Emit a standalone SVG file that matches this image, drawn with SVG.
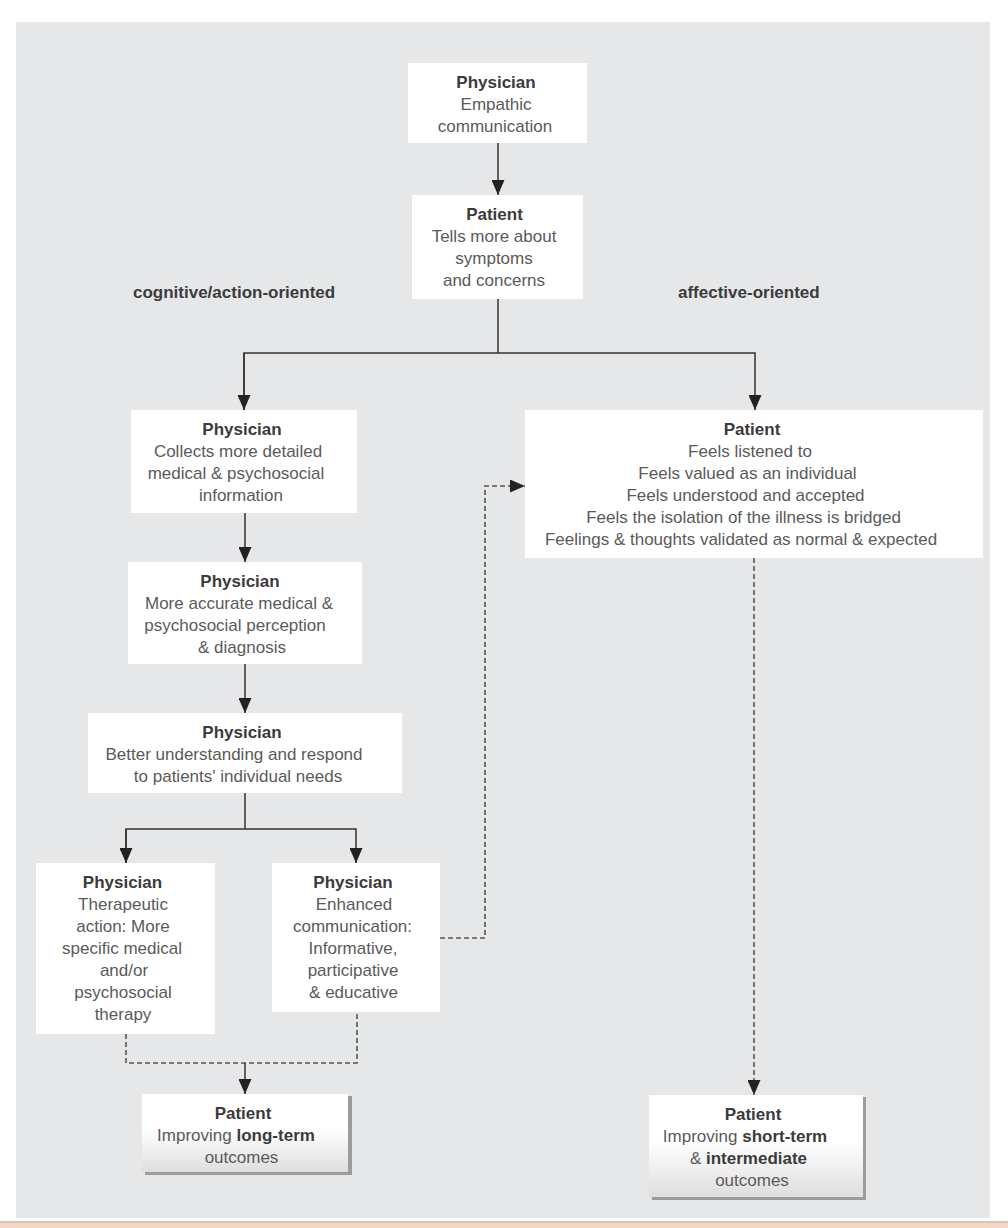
<svg xmlns="http://www.w3.org/2000/svg" width="1008" height="1228" viewBox="0 0 1008 1228">
<style>
  .box{fill:#ffffff;}
  .t{font-family:"Liberation Sans",Arial,sans-serif;font-size:17px;fill:#5a5a5a;text-anchor:middle;}
  .b{font-weight:bold;fill:#3b3b3b;}
  .lbl{font-family:"Liberation Sans",Arial,sans-serif;font-size:17px;font-weight:bold;fill:#3b3b3b;}
  .ln{fill:none;stroke:#333;stroke-width:1.5;}
  .dash{fill:none;stroke:#555;stroke-width:1.6;stroke-dasharray:5 3;}
</style>
<defs>
  <marker id="ah" viewBox="0 0 15 13" refX="15" refY="6.5" markerWidth="15" markerHeight="13" markerUnits="userSpaceOnUse" orient="auto">
    <path d="M0,0 L15,6.5 L0,13 z" fill="#222"/>
  </marker>
  <linearGradient id="g3d" x1="0" y1="0" x2="0" y2="1">
    <stop offset="0" stop-color="#ffffff"/>
    <stop offset="0.45" stop-color="#ffffff"/>
    <stop offset="1" stop-color="#dedede"/>
  </linearGradient>
</defs>

<rect x="0" y="0" width="1008" height="1228" fill="#ffffff"/>
<rect x="16" y="22" width="974" height="1196" fill="#e6e7e9"/>
<rect x="0" y="1221" width="1008" height="2" fill="#c8c8c8"/>
<rect x="0" y="1223" width="1008" height="5" fill="#f6d6bf"/>

<text class="lbl" x="133" y="298">cognitive/action-oriented</text>
<text class="lbl" x="678" y="298">affective-oriented</text>

<g id="connectors">
  <line class="ln" x1="498" y1="143" x2="498" y2="195" marker-end="url(#ah)"/>
  <polyline class="ln" points="498,299 498,353"/>
  <polyline class="ln" points="244,410 244,353 755,353 755,410" marker-end="url(#ah)"/>
  <line class="ln" x1="244" y1="353" x2="244" y2="410" marker-end="url(#ah)"/>
  <line class="ln" x1="245" y1="513" x2="245" y2="562" marker-end="url(#ah)"/>
  <line class="ln" x1="245" y1="664" x2="245" y2="713" marker-end="url(#ah)"/>
  <polyline class="ln" points="245,793 245,829"/>
  <polyline class="ln" points="126,863 126,829 356,829 356,863" marker-end="url(#ah)"/>
  <line class="ln" x1="126" y1="829" x2="126" y2="863" marker-end="url(#ah)"/>
  <polyline class="dash" points="440,938 485,938 485,486 525,486" marker-end="url(#ah)"/>
  <line class="dash" x1="754" y1="558" x2="754" y2="1095" marker-end="url(#ah)"/>
  <polyline class="dash" points="126,1034 126,1063 357,1063 357,1012"/>
  <line class="ln" x1="245" y1="1063" x2="245" y2="1094" marker-end="url(#ah)"/>
</g>

<g id="n1">
  <rect class="box" x="408" y="63" width="179" height="80"/>
  <text class="t b" x="496" y="88">Physician</text>
  <text class="t" x="496" y="110">Empathic</text>
  <text class="t" x="495" y="132">communication</text>
</g>

<g id="n2">
  <rect class="box" x="412" y="195" width="171" height="104"/>
  <text class="t b" x="494.5" y="220">Patient</text>
  <text class="t" x="494" y="242">Tells more about</text>
  <text class="t" x="494" y="264">symptoms</text>
  <text class="t" x="494" y="286">and concerns</text>
</g>

<g id="n3">
  <rect class="box" x="131" y="410" width="226" height="103"/>
  <text class="t b" x="242" y="435">Physician</text>
  <text class="t" x="238" y="457">Collects more detailed</text>
  <text class="t" x="236" y="479">medical &amp; psychosocial</text>
  <text class="t" x="241" y="501">information</text>
</g>

<g id="n4">
  <rect class="box" x="128" y="562" width="234" height="102"/>
  <text class="t b" x="240" y="587">Physician</text>
  <text class="t" x="239" y="609">More accurate medical &amp;</text>
  <text class="t" x="235" y="631">psychosocial perception</text>
  <text class="t" x="242" y="653">&amp; diagnosis</text>
</g>

<g id="n5">
  <rect class="box" x="88" y="713" width="314" height="80"/>
  <text class="t b" x="242" y="738">Physician</text>
  <text class="t" x="234" y="760">Better understanding and respond</text>
  <text class="t" x="238" y="782">to patients' individual needs</text>
</g>

<g id="n6">
  <rect class="box" x="36" y="863" width="179" height="171"/>
  <text class="t b" x="122.5" y="888">Physician</text>
  <text class="t" x="123" y="910">Therapeutic</text>
  <text class="t" x="123" y="932">action: More</text>
  <text class="t" x="122" y="954">specific medical</text>
  <text class="t" x="124" y="976">and/or</text>
  <text class="t" x="123" y="998">psychosocial</text>
  <text class="t" x="123" y="1020">therapy</text>
</g>

<g id="n7">
  <rect class="box" x="272" y="863" width="168" height="149"/>
  <text class="t b" x="353" y="888">Physician</text>
  <text class="t" x="354" y="910">Enhanced</text>
  <text class="t" x="352.5" y="932">communication:</text>
  <text class="t" x="353" y="954">Informative,</text>
  <text class="t" x="353" y="976">participative</text>
  <text class="t" x="353.5" y="998">&amp; educative</text>
</g>

<g id="n8">
  <rect class="box" x="525" y="410" width="458" height="148"/>
  <text class="t b" x="752" y="435">Patient</text>
  <text class="t" x="750" y="457">Feels listened to</text>
  <text class="t" x="747.5" y="479">Feels valued as an individual</text>
  <text class="t" x="745.5" y="501">Feels understood and accepted</text>
  <text class="t" x="743.5" y="523">Feels the isolation of the illness is bridged</text>
  <text class="t" x="741" y="545">Feelings &amp; thoughts validated as normal &amp; expected</text>
</g>

<g id="n9">
  <rect x="145" y="1096" width="207" height="79" fill="#9c9c9c"/>
  <rect x="142" y="1094" width="206" height="78" fill="url(#g3d)"/>
  <text class="t b" x="243" y="1119">Patient</text>
  <text class="t" x="236" y="1141">Improving <tspan class="b">long-term</tspan></text>
  <text class="t" x="241.5" y="1163">outcomes</text>
</g>

<g id="n10">
  <rect x="652" y="1097" width="214" height="103" fill="#9c9c9c"/>
  <rect x="649" y="1095" width="214" height="102" fill="url(#g3d)"/>
  <text class="t b" x="753" y="1120">Patient</text>
  <text class="t" x="745" y="1142">Improving <tspan class="b">short-term</tspan></text>
  <text class="t" x="748.5" y="1164">&amp; <tspan class="b">intermediate</tspan></text>
  <text class="t" x="752" y="1186">outcomes</text>
</g>
</svg>
